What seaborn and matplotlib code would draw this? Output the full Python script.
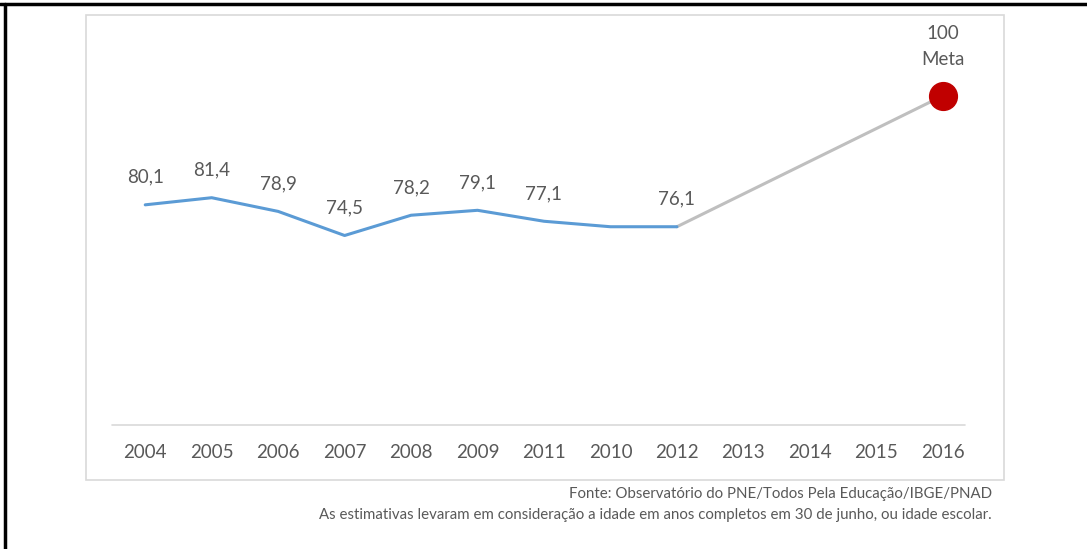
import matplotlib
matplotlib.use("Agg")
import matplotlib.pyplot as plt
import seaborn as sns
import pandas as pd
from matplotlib.patches import Rectangle
from matplotlib.lines import Line2D

# Dados (ordem das categorias como no original)
anos = ['2004', '2005', '2006', '2007', '2008', '2009', '2011', '2010',
        '2012', '2013', '2014', '2015', '2016']
anos_serie = ['2004', '2005', '2006', '2007', '2008', '2009', '2011', '2010', '2012']
taxa = [80.1, 81.4, 78.9, 74.5, 78.2, 79.1, 77.1, 76.1, 76.1]
rotulos = ['80,1', '81,4', '78,9', '74,5', '78,2', '79,1', '77,1', '', '76,1']
anos_meta = ['2012', '2016']
valores_meta = [76.1, 100]

sns.set_style("white")
plt.rcParams['font.family'] = ['Lato', 'DejaVu Sans']

serie = pd.DataFrame({"pos": [anos.index(a) for a in anos_serie], "taxa": taxa})
meta = pd.DataFrame({"pos": [anos.index(a) for a in anos_meta], "taxa": valores_meta})

fig = plt.figure(figsize=(10.87, 5.49), dpi=100)
ax = fig.add_axes([112 / 1087, 1 - 425 / 549, (976 - 112) / 1087, (425 - 46) / 549])

texto = '#595959'
fs = 13.5
base = 39.9

sns.lineplot(data=meta, x="pos", y="taxa", color='#BFBFBF', linewidth=2.2, ax=ax, sort=False)
sns.lineplot(data=serie, x="pos", y="taxa", color='#5B9BD5', linewidth=2.2, ax=ax, sort=False)
ax.plot(meta["pos"].iloc[-1], meta["taxa"].iloc[-1], 'o', color='#C00000', markersize=20, zorder=5)

for p, v, r in zip(serie["pos"], serie["taxa"], rotulos):
    if r:
        ax.annotate(r, (p, v), xytext=(0, 20), textcoords='offset points',
                    ha='center', va='center', fontsize=fs, color=texto)

pm, vm = meta["pos"].iloc[-1], meta["taxa"].iloc[-1]
ax.annotate('Meta', (pm, vm), xytext=(0, 26), textcoords='offset points',
            ha='center', va='center', fontsize=fs, color=texto)
ax.annotate('100', (pm, vm), xytext=(0, 45), textcoords='offset points',
            ha='center', va='center', fontsize=fs, color=texto)

ax.set_xlim(-0.5, 12.5)
ax.set_ylim(base, 109.1)
ax.set_xticks(range(len(anos)))
ax.set_xticklabels(anos, fontsize=fs, color=texto)
ax.set_yticks([])
ax.tick_params(axis='x', length=0, pad=14)
ax.set_xlabel('')
ax.set_ylabel('')
for s in ax.spines.values():
    s.set_visible(False)
ax.axhline(base, xmin=0, xmax=(965 - 112) / (976 - 112), color='#D9D9D9', linewidth=1.2, clip_on=False)
ax.patch.set_alpha(0)

# Moldura do gráfico
fig.patches.append(Rectangle((86 / 1087, 1 - 480 / 549), (1004 - 86) / 1087, (480 - 15) / 549,
                             transform=fig.transFigure, fill=False, edgecolor='#D9D9D9',
                             linewidth=1.2, zorder=0))

# Bordas pretas da imagem
fig.lines.append(Line2D([0, 1], [1 - 3.5 / 549, 1 - 3.5 / 549], transform=fig.transFigure,
                        color='black', linewidth=2.5))
fig.lines.append(Line2D([5 / 1087, 5 / 1087], [0, 1 - 3.5 / 549], transform=fig.transFigure,
                        color='black', linewidth=2.5))

fig.text(992 / 1087, 1 - 494 / 549, 'Fonte: Observatório do PNE/Todos Pela Educação/IBGE/PNAD',
         ha='right', va='center', fontsize=10.8, color=texto)
fig.text(992 / 1087, 1 - 515 / 549,
         'As estimativas levaram em consideração a idade em anos completos em 30 de junho, ou idade escolar.',
         ha='right', va='center', fontsize=10.8, color=texto)

fig.savefig('out.png', dpi=100)
